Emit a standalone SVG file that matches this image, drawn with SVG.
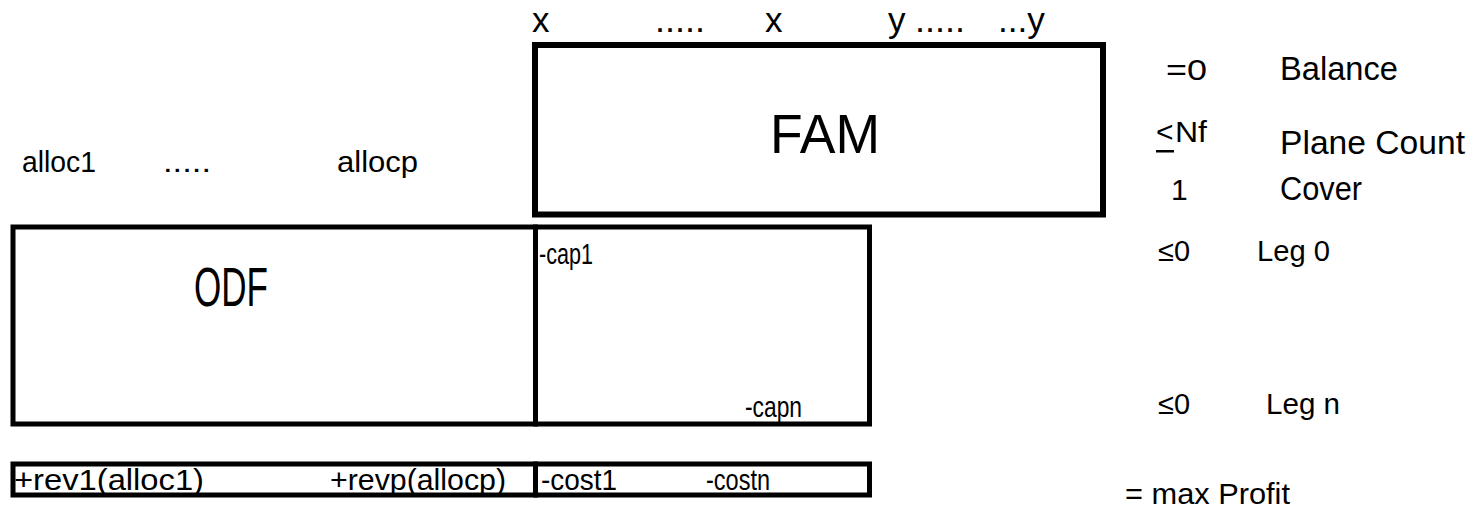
<svg xmlns="http://www.w3.org/2000/svg" width="1479" height="516" viewBox="0 0 1479 516">
<style>
.box{fill:#fff;stroke:#000;stroke-width:5}
.t{font-family:"Liberation Sans",Arial,sans-serif;fill:#000}
.s36{font-size:35px}
.s33{font-size:33px}
.s30{font-size:30px}
.s28{font-size:29px}
.s27{font-size:30px}
.big{font-size:56px}
</style>
<rect width="1479" height="516" fill="#fff"/>
<g id="top-labels" class="t s36">
<text x="532" y="32">x</text>
<text x="655" y="32" textLength="50" lengthAdjust="spacingAndGlyphs">.....</text>
<text x="765" y="32">x</text>
<text x="888" y="32">y</text>
<text x="915" y="32" textLength="50" lengthAdjust="spacingAndGlyphs">.....</text>
<text x="998" y="32" textLength="47" lengthAdjust="spacingAndGlyphs">...y</text>
</g>
<g id="FAM">
<rect class="box" x="535" y="45" width="568" height="169.5" style="stroke-width:6"/>
<text class="t big" x="770" y="153" textLength="110" lengthAdjust="spacingAndGlyphs">FAM</text>
</g>
<g id="alloc-labels" class="t s30">
<text x="22" y="172" textLength="74" lengthAdjust="spacingAndGlyphs">alloc1</text>
<text x="163" y="172" textLength="48" lengthAdjust="spacingAndGlyphs">.....</text>
<text x="337" y="172" textLength="81" lengthAdjust="spacingAndGlyphs">allocp</text>
</g>
<g id="ODF">
<rect class="box" x="13" y="227" width="522.5" height="197"/>
<text class="t big" x="194" y="306" textLength="74" lengthAdjust="spacingAndGlyphs">ODF</text>
</g>
<g id="CAP">
<rect class="box" x="535.5" y="227" width="334" height="197"/>
<text class="t s27" x="539" y="264" textLength="54" lengthAdjust="spacingAndGlyphs">-cap1</text>
<text class="t s27" x="745" y="417" textLength="57" lengthAdjust="spacingAndGlyphs">-capn</text>
</g>
<g id="REV">
<rect class="box" x="13" y="464" width="522.5" height="31"/>
<text class="t s27" x="14" y="490" textLength="190" lengthAdjust="spacingAndGlyphs">+rev1(alloc1)</text>
<text class="t s27" x="330" y="490" textLength="176" lengthAdjust="spacingAndGlyphs">+revp(allocp)</text>
</g>
<g id="COST">
<rect class="box" x="535.5" y="464" width="334" height="31"/>
<text class="t s27" x="541" y="490" textLength="76" lengthAdjust="spacingAndGlyphs">-cost1</text>
<text class="t s27" x="706" y="490" textLength="64" lengthAdjust="spacingAndGlyphs">-costn</text>
</g>
<g id="constraints" class="t">
<text class="s30" x="1166" y="80" textLength="41" lengthAdjust="spacingAndGlyphs">=0</text>
<text class="s33" x="1280" y="80" textLength="118" lengthAdjust="spacingAndGlyphs">Balance</text>
<text class="s30" x="1156" y="142">&lt;</text>
<rect x="1156" y="150" width="18" height="2.5" fill="#000"/>
<text class="s30" x="1175" y="142" textLength="32" lengthAdjust="spacingAndGlyphs">Nf</text>
<text class="s33" x="1280" y="154" textLength="185" lengthAdjust="spacingAndGlyphs">Plane Count</text>
<text class="s30" x="1171" y="200">1</text>
<text class="s33" x="1280" y="200" textLength="82" lengthAdjust="spacingAndGlyphs">Cover</text>
<text class="s28" x="1158" y="261" textLength="32" lengthAdjust="spacingAndGlyphs">≤0</text>
<text class="s28" x="1257" y="261" textLength="73" lengthAdjust="spacingAndGlyphs">Leg 0</text>
<text class="s28" x="1158" y="414" textLength="32" lengthAdjust="spacingAndGlyphs">≤0</text>
<text class="s28" x="1266" y="414" textLength="74" lengthAdjust="spacingAndGlyphs">Leg n</text>
<text class="s30" x="1125" y="504" textLength="165" lengthAdjust="spacingAndGlyphs">= max Profit</text>
</g>
</svg>
